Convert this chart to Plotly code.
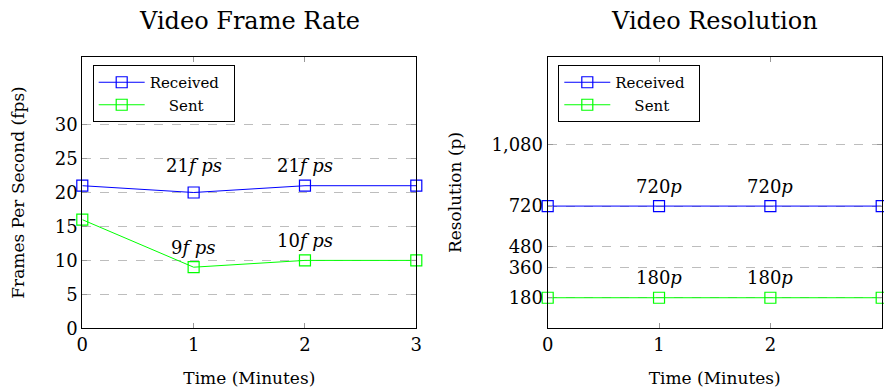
import plotly.graph_objects as go

# Time axis (minutes)
minutes = [0, 1, 2, 3]

# Frame rate (fps)
fps_received = [21, 20, 21, 21]
fps_sent = [16, 9, 10, 10]
fps_label_x = [1, 2]
fps_label_received = [21, 21]
fps_label_sent = [9, 10]
fps_ticks = [0, 5, 10, 15, 20, 25, 30]

# Resolution (p)
res_received = [720, 720, 720, 720]
res_sent = [180, 180, 180, 180]
res_label_x = [1, 2]
res_label_received = [720, 720]
res_label_sent = [180, 180]
res_ticks = [180, 360, 480, 720, 1080]
res_tick_text = ["180", "360", "480", "720", "1,080"]

BLUE = "rgb(0,0,255)"
GREEN = "rgb(0,255,0)"
FONT = "DejaVu Serif"
W, H = 884, 392


def px_x(v):
    return v / W


def px_y(v):
    return 1 - v / H


fig = go.Figure()

series = [
    ("x", "y", "legend", fps_received, fps_sent),
    ("x2", "y2", "legend2", res_received, res_sent),
]
for xa, ya, lg, rec, sent in series:
    fig.add_trace(go.Scatter(
        x=minutes, y=rec, name="Received  ", xaxis=xa, yaxis=ya, legend=lg,
        mode="lines+markers", line=dict(color=BLUE, width=1),
        marker=dict(symbol="square-open", size=11, color=BLUE, line=dict(width=1.2)),
        cliponaxis=False,
    ))
    fig.add_trace(go.Scatter(
        x=minutes, y=sent, name="    Sent", xaxis=xa, yaxis=ya, legend=lg,
        mode="lines+markers", line=dict(color=GREEN, width=1),
        marker=dict(symbol="square-open", size=11, color=GREEN, line=dict(width=1.2)),
        cliponaxis=False,
    ))

axis_common = dict(
    showline=True, linecolor="black", linewidth=1.2, mirror="ticks",
    ticks="inside", ticklen=5, tickcolor="#999999", tickwidth=1,
    zeroline=False, automargin=False,
    tickfont=dict(family=FONT, size=18, color="black"),
)
x_common = dict(axis_common, range=[0, 3], tickvals=minutes, showgrid=False,
                title=dict(text="Time (Minutes)", font=dict(family=FONT, size=17, color="black"),
                           standoff=18))
y_grid = dict(showgrid=True, gridcolor="#bdbdbd", griddash="dash", gridwidth=1)

fig.update_layout(
    width=W, height=H, margin=dict(l=0, r=0, t=0, b=0, autoexpand=False),
    plot_bgcolor="white", paper_bgcolor="white",
    font=dict(family=FONT, color="black"),
    xaxis=dict(x_common, domain=[px_x(82.3), px_x(416.3)], anchor="y"),
    yaxis=dict(axis_common, **y_grid, domain=[px_y(328.3), px_y(56.7)], anchor="x",
               range=[0, 40], tickvals=fps_ticks,
               title=dict(text="Frames Per Second (fps)",
                          font=dict(family=FONT, size=17, color="black"), standoff=25)),
    xaxis2=dict(x_common, domain=[px_x(547.7), px_x(881.7)], anchor="y2"),
    yaxis2=dict(axis_common, **y_grid, domain=[px_y(328.3), px_y(56.7)], anchor="x2",
                range=[0, 1600], tickvals=res_ticks, ticktext=res_tick_text,
                title=dict(text="Resolution (p)",
                           font=dict(family=FONT, size=17, color="black"), standoff=25)),
    showlegend=True,
)

legend_style = dict(
    xanchor="left", yanchor="top", bgcolor="white",
    bordercolor="black", borderwidth=1,
    font=dict(family=FONT, size=15, color="black"),
    tracegroupgap=0, itemwidth=46,
)
fig.update_layout(
    legend=dict(legend_style, x=px_x(92.7), y=px_y(65)),
    legend2=dict(legend_style, x=px_x(558.3), y=px_y(65)),
)

# Panel titles
for xa_dom, text in [((82.3, 416.3), "Video Frame Rate"), ((547.7, 881.7), "Video Resolution")]:
    fig.add_annotation(
        text=text, xref="paper", yref="paper",
        x=px_x(sum(xa_dom) / 2), y=px_y(21), xanchor="center", yanchor="middle",
        showarrow=False, font=dict(family=FONT, size=24, color="black"),
    )

# Value labels above the points
label_sets = [
    ("x", "y", fps_label_x, fps_label_received, "<i>f ps</i>"),
    ("x", "y", fps_label_x, fps_label_sent, "<i>f ps</i>"),
    ("x2", "y2", res_label_x, res_label_received, "<i>p</i>"),
    ("x2", "y2", res_label_x, res_label_sent, "<i>p</i>"),
]
for xa, ya, xs, vals, unit in label_sets:
    for xv, v in zip(xs, vals):
        fig.add_annotation(
            x=xv, y=v, xref=xa, yref=ya, text=f"{v}{unit}", showarrow=False,
            yshift=20, font=dict(family=FONT, size=18, color="black"),
        )

fig.write_html("out.html")
